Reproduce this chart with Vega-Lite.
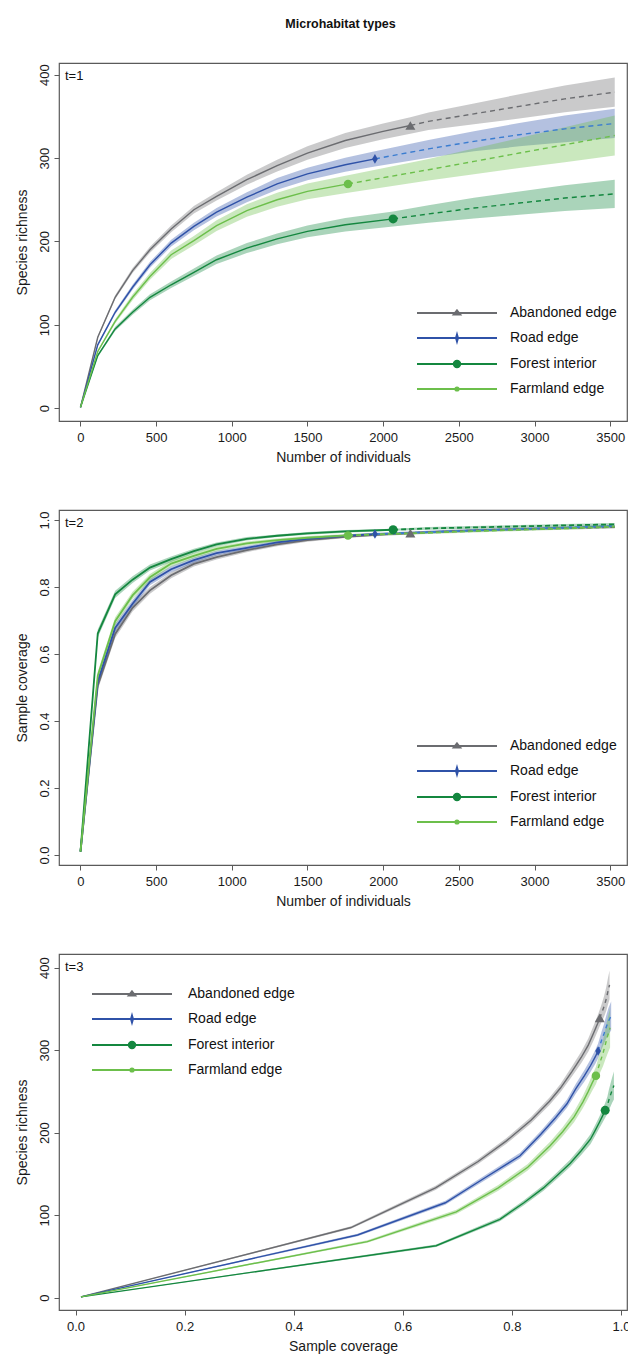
{
  "$schema": "https://vega.github.io/schema/vega-lite/v6.json",
  "padding": {"left": 14, "top": 17, "right": 0, "bottom": 0},
  "title": {"text": "Microhabitat types", "fontSize": 12.5, "fontWeight": "bold", "anchor": "middle", "offset": 32, "dx": 18, "color": "#111"},
  "spacing": 44,
  "resolve": {"legend": {"color": "independent"}},
  "config": {
    "font": "Liberation Sans",
    "view": {"stroke": "#5a5a5a", "strokeWidth": 1.2},
    "axis": {"domain": false, "grid": false, "ticks": true, "tickColor": "#5a5a5a", "tickSize": 5, "tickWidth": 1, "labelFontSize": 13, "labelColor": "#1a1a1a", "titleFontSize": 14, "titleFontWeight": "normal", "titleColor": "#1a1a1a", "labelOverlap": false, "labelFlush": false},
    "axisX": {"labelPadding": 5, "titlePadding": 6},
    "axisY": {"labelAngle": 270, "labelAlign": "center", "labelBaseline": "bottom", "labelPadding": 3, "titlePadding": 6, "minExtent": 24, "maxExtent": 24},
    "legend": {"padding": 0}
  },
  "datasets": {
    "curves": [
      {"g":"Abandoned edge","t":"rar","n":1,"S":1,"lo":1,"hi":1,"C":0.010,"clo":0.008,"chi":0.012},
      {"g":"Abandoned edge","t":"rar","n":115,"S":85,"lo":83.5,"hi":86.5,"C":0.505,"clo":0.493,"chi":0.517},
      {"g":"Abandoned edge","t":"rar","n":230,"S":133,"lo":130.5,"hi":135.5,"C":0.660,"clo":0.648,"chi":0.672},
      {"g":"Abandoned edge","t":"rar","n":345,"S":165,"lo":162,"hi":168,"C":0.738,"clo":0.727,"chi":0.749},
      {"g":"Abandoned edge","t":"rar","n":460,"S":190,"lo":186.5,"hi":193.5,"C":0.790,"clo":0.780,"chi":0.800},
      {"g":"Abandoned edge","t":"rar","n":600,"S":215,"lo":211,"hi":219,"C":0.835,"clo":0.826,"chi":0.844},
      {"g":"Abandoned edge","t":"rar","n":750,"S":238,"lo":233.5,"hi":242.5,"C":0.869,"clo":0.861,"chi":0.877},
      {"g":"Abandoned edge","t":"rar","n":900,"S":254,"lo":249,"hi":259,"C":0.889,"clo":0.882,"chi":0.896},
      {"g":"Abandoned edge","t":"rar","n":1100,"S":274,"lo":268,"hi":280,"C":0.910,"clo":0.904,"chi":0.916},
      {"g":"Abandoned edge","t":"rar","n":1300,"S":291,"lo":284,"hi":298,"C":0.927,"clo":0.922,"chi":0.932},
      {"g":"Abandoned edge","t":"rar","n":1500,"S":306,"lo":298,"hi":314,"C":0.940,"clo":0.935,"chi":0.945},
      {"g":"Abandoned edge","t":"rar","n":1750,"S":321,"lo":312,"hi":330,"C":0.950,"clo":0.946,"chi":0.954},
      {"g":"Abandoned edge","t":"rar","n":2000,"S":332,"lo":322.5,"hi":341.5,"C":0.957,"clo":0.953,"chi":0.961},
      {"g":"Abandoned edge","t":"obs","n":2180,"S":339,"lo":329,"hi":349,"C":0.961,"clo":0.957,"chi":0.965},
      {"g":"Abandoned edge","t":"ext","n":2300,"S":344,"lo":333.5,"hi":354.5,"C":0.964,"clo":0.960,"chi":0.968},
      {"g":"Abandoned edge","t":"ext","n":2600,"S":353,"lo":340.5,"hi":365.5,"C":0.969,"clo":0.965,"chi":0.973},
      {"g":"Abandoned edge","t":"ext","n":2900,"S":362,"lo":347.5,"hi":376.5,"C":0.973,"clo":0.969,"chi":0.977},
      {"g":"Abandoned edge","t":"ext","n":3200,"S":371,"lo":355,"hi":387,"C":0.976,"clo":0.972,"chi":0.980},
      {"g":"Abandoned edge","t":"ext","n":3530,"S":379,"lo":361.5,"hi":396.5,"C":0.979,"clo":0.975,"chi":0.983},

      {"g":"Road edge","t":"rar","n":1,"S":1,"lo":1,"hi":1,"C":0.010,"clo":0.008,"chi":0.012},
      {"g":"Road edge","t":"rar","n":115,"S":76,"lo":74.5,"hi":77.5,"C":0.517,"clo":0.505,"chi":0.529},
      {"g":"Road edge","t":"rar","n":230,"S":115,"lo":112.5,"hi":117.5,"C":0.678,"clo":0.666,"chi":0.690},
      {"g":"Road edge","t":"rar","n":345,"S":145,"lo":142,"hi":148,"C":0.750,"clo":0.739,"chi":0.761},
      {"g":"Road edge","t":"rar","n":460,"S":172,"lo":168.5,"hi":175.5,"C":0.815,"clo":0.805,"chi":0.825},
      {"g":"Road edge","t":"rar","n":600,"S":198,"lo":194,"hi":202,"C":0.853,"clo":0.844,"chi":0.862},
      {"g":"Road edge","t":"rar","n":750,"S":218,"lo":213.5,"hi":222.5,"C":0.880,"clo":0.872,"chi":0.888},
      {"g":"Road edge","t":"rar","n":900,"S":235,"lo":230,"hi":240,"C":0.901,"clo":0.894,"chi":0.908},
      {"g":"Road edge","t":"rar","n":1100,"S":253,"lo":247,"hi":259,"C":0.917,"clo":0.911,"chi":0.923},
      {"g":"Road edge","t":"rar","n":1300,"S":269,"lo":262,"hi":276,"C":0.933,"clo":0.928,"chi":0.938},
      {"g":"Road edge","t":"rar","n":1500,"S":281,"lo":273.5,"hi":288.5,"C":0.944,"clo":0.939,"chi":0.949},
      {"g":"Road edge","t":"rar","n":1750,"S":292,"lo":283.5,"hi":300.5,"C":0.953,"clo":0.949,"chi":0.957},
      {"g":"Road edge","t":"obs","n":1946,"S":299,"lo":290,"hi":308,"C":0.958,"clo":0.954,"chi":0.962},
      {"g":"Road edge","t":"ext","n":2300,"S":311,"lo":300.5,"hi":321.5,"C":0.964,"clo":0.960,"chi":0.968},
      {"g":"Road edge","t":"ext","n":2600,"S":320,"lo":308,"hi":332,"C":0.969,"clo":0.965,"chi":0.973},
      {"g":"Road edge","t":"ext","n":2900,"S":328,"lo":314,"hi":342,"C":0.973,"clo":0.969,"chi":0.977},
      {"g":"Road edge","t":"ext","n":3200,"S":335,"lo":319,"hi":351,"C":0.977,"clo":0.973,"chi":0.981},
      {"g":"Road edge","t":"ext","n":3530,"S":341.5,"lo":324,"hi":359,"C":0.982,"clo":0.978,"chi":0.986},

      {"g":"Forest interior","t":"rar","n":1,"S":1,"lo":1,"hi":1,"C":0.010,"clo":0.008,"chi":0.012},
      {"g":"Forest interior","t":"rar","n":115,"S":63,"lo":61.5,"hi":64.5,"C":0.661,"clo":0.649,"chi":0.673},
      {"g":"Forest interior","t":"rar","n":230,"S":95,"lo":92.5,"hi":97.5,"C":0.778,"clo":0.767,"chi":0.789},
      {"g":"Forest interior","t":"rar","n":345,"S":115,"lo":112,"hi":118,"C":0.822,"clo":0.812,"chi":0.832},
      {"g":"Forest interior","t":"rar","n":460,"S":133,"lo":129.5,"hi":136.5,"C":0.858,"clo":0.849,"chi":0.867},
      {"g":"Forest interior","t":"rar","n":600,"S":148,"lo":144,"hi":152,"C":0.883,"clo":0.875,"chi":0.891},
      {"g":"Forest interior","t":"rar","n":750,"S":163,"lo":158.5,"hi":167.5,"C":0.907,"clo":0.900,"chi":0.914},
      {"g":"Forest interior","t":"rar","n":900,"S":178,"lo":173,"hi":183,"C":0.927,"clo":0.921,"chi":0.933},
      {"g":"Forest interior","t":"rar","n":1100,"S":192,"lo":186,"hi":198,"C":0.944,"clo":0.939,"chi":0.949},
      {"g":"Forest interior","t":"rar","n":1300,"S":203,"lo":196.5,"hi":209.5,"C":0.953,"clo":0.949,"chi":0.957},
      {"g":"Forest interior","t":"rar","n":1500,"S":212,"lo":205,"hi":219,"C":0.960,"clo":0.956,"chi":0.964},
      {"g":"Forest interior","t":"rar","n":1750,"S":220,"lo":212,"hi":228,"C":0.966,"clo":0.962,"chi":0.970},
      {"g":"Forest interior","t":"obs","n":2066,"S":227,"lo":218,"hi":236,"C":0.971,"clo":0.968,"chi":0.974},
      {"g":"Forest interior","t":"ext","n":2300,"S":233,"lo":222.5,"hi":243.5,"C":0.975,"clo":0.971,"chi":0.979},
      {"g":"Forest interior","t":"ext","n":2600,"S":240,"lo":227.5,"hi":252.5,"C":0.978,"clo":0.974,"chi":0.982},
      {"g":"Forest interior","t":"ext","n":2900,"S":246,"lo":232,"hi":260,"C":0.981,"clo":0.977,"chi":0.985},
      {"g":"Forest interior","t":"ext","n":3200,"S":252,"lo":236.5,"hi":267.5,"C":0.984,"clo":0.980,"chi":0.988},
      {"g":"Forest interior","t":"ext","n":3530,"S":257,"lo":240,"hi":274,"C":0.987,"clo":0.983,"chi":0.991},

      {"g":"Farmland edge","t":"rar","n":1,"S":1,"lo":1,"hi":1,"C":0.010,"clo":0.008,"chi":0.012},
      {"g":"Farmland edge","t":"rar","n":115,"S":68,"lo":66.5,"hi":69.5,"C":0.535,"clo":0.523,"chi":0.547},
      {"g":"Farmland edge","t":"rar","n":230,"S":104,"lo":101.5,"hi":106.5,"C":0.698,"clo":0.686,"chi":0.710},
      {"g":"Farmland edge","t":"rar","n":345,"S":133,"lo":129.5,"hi":136.5,"C":0.775,"clo":0.764,"chi":0.786},
      {"g":"Farmland edge","t":"rar","n":460,"S":158,"lo":154,"hi":162,"C":0.829,"clo":0.819,"chi":0.839},
      {"g":"Farmland edge","t":"rar","n":600,"S":184,"lo":179,"hi":189,"C":0.870,"clo":0.861,"chi":0.879},
      {"g":"Farmland edge","t":"rar","n":750,"S":201,"lo":195.5,"hi":206.5,"C":0.893,"clo":0.885,"chi":0.901},
      {"g":"Farmland edge","t":"rar","n":900,"S":219,"lo":212.5,"hi":225.5,"C":0.914,"clo":0.907,"chi":0.921},
      {"g":"Farmland edge","t":"rar","n":1100,"S":237,"lo":229.5,"hi":244.5,"C":0.930,"clo":0.924,"chi":0.936},
      {"g":"Farmland edge","t":"rar","n":1300,"S":250,"lo":241.5,"hi":258.5,"C":0.940,"clo":0.935,"chi":0.945},
      {"g":"Farmland edge","t":"rar","n":1500,"S":260,"lo":250.5,"hi":269.5,"C":0.947,"clo":0.942,"chi":0.952},
      {"g":"Farmland edge","t":"obs","n":1768,"S":269,"lo":258.5,"hi":279.5,"C":0.954,"clo":0.950,"chi":0.958},
      {"g":"Farmland edge","t":"ext","n":2300,"S":286,"lo":273,"hi":299,"C":0.962,"clo":0.958,"chi":0.966},
      {"g":"Farmland edge","t":"ext","n":2600,"S":296,"lo":280.5,"hi":311.5,"C":0.967,"clo":0.963,"chi":0.971},
      {"g":"Farmland edge","t":"ext","n":2900,"S":306,"lo":288,"hi":324,"C":0.971,"clo":0.967,"chi":0.975},
      {"g":"Farmland edge","t":"ext","n":3200,"S":316,"lo":295,"hi":337,"C":0.975,"clo":0.971,"chi":0.979},
      {"g":"Farmland edge","t":"ext","n":3530,"S":327,"lo":303,"hi":351,"C":0.980,"clo":0.976,"chi":0.984}
    ]
  },
  "vconcat": [
    {
      "width": 568, "height": 358,
      "title": {"text": "t=1", "anchor": "start", "frame": "group", "offset": -20, "dx": 6, "fontSize": 13, "fontWeight": "normal", "color": "#111"},
      "data": {"name": "curves"},
      "encoding": {
        "x": {"field": "n", "type": "quantitative", "scale": {"domain": [-141, 3611], "nice": false, "zero": false}, "axis": {"title": "Number of individuals", "values": [0,500,1000,1500,2000,2500,3000,3500], "format": "d"}}
      },
      "layer": [
        {"mark": {"type": "area"},
         "encoding": {
           "y": {"field": "lo", "type": "quantitative", "scale": {"domain": [-15.4, 414], "nice": false, "zero": false}, "axis": {"title": "Species richness", "values": [0,100,200,300,400], "format": "d"}},
           "y2": {"field": "hi"},
           "color": {"field": "g", "type": "nominal", "scale": {"domain": ["Abandoned edge","Road edge","Forest interior","Farmland edge"], "range": ["#6b6c70","#2f52a8","#14873f","#6cbf4b"]},
             "legend": {"title": null, "orient": "none", "legendX": 355, "legendY": 243, "symbolSize": 64, "symbolStrokeWidth": 2.2, "symbolOpacity": 1, "symbolOffset": 36, "labelOffset": 46, "rowPadding": 10, "labelFontSize": 14, "labelColor": "#111",
               "encoding": {"symbols": {
                 "shape": {"value": {"expr": "datum.value === 'Abandoned edge' ? 'M-10,0H10M0,-0.6L0.75,0.35L-0.75,0.35Z' : datum.value === 'Road edge' ? 'M-10,0H10M0,-0.75L0.22,0L0,0.75L-0.22,0Z' : datum.value === 'Forest interior' ? 'M-10,0H10M-0.78,0A0.78,0.78,0,1,0,0.78,0A0.78,0.78,0,1,0,-0.78,0Z' : 'M-10,0H10M-0.38,0A0.38,0.38,0,1,0,0.38,0A0.38,0.38,0,1,0,-0.38,0Z'"}},
                 "fill": {"value": {"expr": "datum.value === 'Abandoned edge' ? '#6b6c70' : datum.value === 'Road edge' ? '#2f52a8' : datum.value === 'Forest interior' ? '#14873f' : '#6cbf4b'"}},
                 "stroke": {"value": {"expr": "datum.value === 'Abandoned edge' ? '#6b6c70' : datum.value === 'Road edge' ? '#2f52a8' : datum.value === 'Forest interior' ? '#14873f' : '#6cbf4b'"}},
                 "strokeWidth": {"value": 2.2},
                 "opacity": {"value": 1}}}}},
           "opacity": {"field": "g", "type": "ordinal", "scale": {"domain": ["Abandoned edge","Road edge","Forest interior","Farmland edge"], "range": [0.36,0.36,0.5,0.36]}, "legend": null}
         }},
        {"transform": [{"filter": "datum.t != 'ext'"}],
         "mark": {"type": "line", "strokeWidth": 1.4},
         "encoding": {
           "y": {"field": "S", "type": "quantitative", "scale": {"domain": [-15.4, 414], "nice": false, "zero": false}, "axis": {"title": "Species richness", "values": [0,100,200,300,400], "format": "d"}},
           "color": {"field": "g", "type": "nominal", "scale": {"domain": ["Abandoned edge","Road edge","Forest interior","Farmland edge"], "range": ["#6b6c70","#2f52a8","#14873f","#6cbf4b"]}}
         }},
        {"transform": [{"filter": "datum.t != 'rar'"}],
         "mark": {"type": "line", "strokeWidth": 1.4, "strokeDash": [5, 4]},
         "encoding": {
           "y": {"field": "S", "type": "quantitative", "scale": {"domain": [-15.4, 414], "nice": false, "zero": false}, "axis": {"title": "Species richness", "values": [0,100,200,300,400], "format": "d"}},
           "stroke": {"field": "g", "type": "nominal", "scale": {"domain": ["Abandoned edge","Road edge","Forest interior","Farmland edge"], "range": ["#6b6c70","#3b7dd0","#14873f","#6cbf4b"]}, "legend": null}
         }},
        {"transform": [{"filter": "datum.t == 'obs'"}],
         "mark": {"type": "point", "filled": true, "opacity": 1},
         "encoding": {
           "y": {"field": "S", "type": "quantitative", "scale": {"domain": [-15.4, 414], "nice": false, "zero": false}, "axis": {"title": "Species richness", "values": [0,100,200,300,400], "format": "d"}},
           "color": {"field": "g", "type": "nominal", "scale": {"domain": ["Abandoned edge","Road edge","Forest interior","Farmland edge"], "range": ["#6b6c70","#2f52a8","#14873f","#6cbf4b"]}},
           "shape": {"field": "g", "type": "nominal", "scale": {"domain": ["Abandoned edge","Road edge","Forest interior","Farmland edge"], "range": ["triangle-up","M0,-1L0.6,0L0,1L-0.6,0Z","circle","circle"]}, "legend": null},
           "size": {"field": "g", "type": "ordinal", "scale": {"domain": ["Abandoned edge","Road edge","Forest interior","Farmland edge"], "range": [100,72,80,32]}, "legend": null}
         }}
      ]
    },
    {
      "width": 568, "height": 355,
      "title": {"text": "t=2", "anchor": "start", "frame": "group", "offset": -20, "dx": 6, "fontSize": 13, "fontWeight": "normal", "color": "#111"},
      "data": {"name": "curves"},
      "encoding": {
        "x": {"field": "n", "type": "quantitative", "scale": {"domain": [-141, 3611], "nice": false, "zero": false}, "axis": {"title": "Number of individuals", "values": [0,500,1000,1500,2000,2500,3000,3500], "format": "d"}}
      },
      "layer": [
        {"mark": {"type": "area"},
         "encoding": {
           "y": {"field": "clo", "type": "quantitative", "scale": {"domain": [-0.0299, 1.0299], "nice": false, "zero": false}, "axis": {"title": "Sample coverage", "values": [0,0.2,0.4,0.6,0.8,1.0], "format": ".1f"}},
           "y2": {"field": "chi"},
           "color": {"field": "g", "type": "nominal", "scale": {"domain": ["Abandoned edge","Road edge","Forest interior","Farmland edge"], "range": ["#6b6c70","#2f52a8","#14873f","#6cbf4b"]},
             "legend": {"title": null, "orient": "none", "legendX": 355, "legendY": 229, "symbolSize": 64, "symbolStrokeWidth": 2.2, "symbolOpacity": 1, "symbolOffset": 36, "labelOffset": 46, "rowPadding": 10, "labelFontSize": 14, "labelColor": "#111",
               "encoding": {"symbols": {
                 "shape": {"value": {"expr": "datum.value === 'Abandoned edge' ? 'M-10,0H10M0,-0.6L0.75,0.35L-0.75,0.35Z' : datum.value === 'Road edge' ? 'M-10,0H10M0,-0.75L0.22,0L0,0.75L-0.22,0Z' : datum.value === 'Forest interior' ? 'M-10,0H10M-0.78,0A0.78,0.78,0,1,0,0.78,0A0.78,0.78,0,1,0,-0.78,0Z' : 'M-10,0H10M-0.38,0A0.38,0.38,0,1,0,0.38,0A0.38,0.38,0,1,0,-0.38,0Z'"}},
                 "fill": {"value": {"expr": "datum.value === 'Abandoned edge' ? '#6b6c70' : datum.value === 'Road edge' ? '#2f52a8' : datum.value === 'Forest interior' ? '#14873f' : '#6cbf4b'"}},
                 "stroke": {"value": {"expr": "datum.value === 'Abandoned edge' ? '#6b6c70' : datum.value === 'Road edge' ? '#2f52a8' : datum.value === 'Forest interior' ? '#14873f' : '#6cbf4b'"}},
                 "strokeWidth": {"value": 2.2},
                 "opacity": {"value": 1}}}}},
           "opacity": {"field": "g", "type": "ordinal", "scale": {"domain": ["Abandoned edge","Road edge","Forest interior","Farmland edge"], "range": [0.36,0.36,0.5,0.36]}, "legend": null}
         }},
        {"transform": [{"filter": "datum.t != 'ext'"}],
         "mark": {"type": "line", "strokeWidth": 1.8},
         "encoding": {
           "y": {"field": "C", "type": "quantitative", "scale": {"domain": [-0.0299, 1.0299], "nice": false, "zero": false}, "axis": {"title": "Sample coverage", "values": [0,0.2,0.4,0.6,0.8,1.0], "format": ".1f"}},
           "color": {"field": "g", "type": "nominal", "scale": {"domain": ["Abandoned edge","Road edge","Forest interior","Farmland edge"], "range": ["#6b6c70","#2f52a8","#14873f","#6cbf4b"]}}
         }},
        {"transform": [{"filter": "datum.t != 'rar'"}],
         "mark": {"type": "line", "strokeWidth": 1.8, "strokeDash": [5, 3]},
         "encoding": {
           "y": {"field": "C", "type": "quantitative", "scale": {"domain": [-0.0299, 1.0299], "nice": false, "zero": false}, "axis": {"title": "Sample coverage", "values": [0,0.2,0.4,0.6,0.8,1.0], "format": ".1f"}},
           "stroke": {"field": "g", "type": "nominal", "scale": {"domain": ["Abandoned edge","Road edge","Forest interior","Farmland edge"], "range": ["#6b6c70","#3b7dd0","#14873f","#6cbf4b"]}, "legend": null}
         }},
        {"transform": [{"filter": "datum.t == 'obs'"}],
         "mark": {"type": "point", "filled": true, "opacity": 1},
         "encoding": {
           "y": {"field": "C", "type": "quantitative", "scale": {"domain": [-0.0299, 1.0299], "nice": false, "zero": false}, "axis": {"title": "Sample coverage", "values": [0,0.2,0.4,0.6,0.8,1.0], "format": ".1f"}},
           "color": {"field": "g", "type": "nominal", "scale": {"domain": ["Abandoned edge","Road edge","Forest interior","Farmland edge"], "range": ["#6b6c70","#2f52a8","#14873f","#6cbf4b"]}},
           "shape": {"field": "g", "type": "nominal", "scale": {"domain": ["Abandoned edge","Road edge","Forest interior","Farmland edge"], "range": ["triangle-up","M0,-1L0.6,0L0,1L-0.6,0Z","circle","circle"]}, "legend": null},
           "size": {"field": "g", "type": "ordinal", "scale": {"domain": ["Abandoned edge","Road edge","Forest interior","Farmland edge"], "range": [100,60,80,32]}, "legend": null}
         }}
      ]
    },
    {
      "width": 568, "height": 356,
      "title": {"text": "t=3", "anchor": "start", "frame": "group", "offset": -20, "dx": 6, "fontSize": 13, "fontWeight": "normal", "color": "#111"},
      "data": {"name": "curves"},
      "encoding": {
        "x": {"field": "C", "type": "quantitative", "scale": {"domain": [-0.0303, 1.011], "nice": false, "zero": false}, "axis": {"title": "Sample coverage", "values": [0,0.2,0.4,0.6,0.8,1.0], "format": ".1f"}}
      },
      "layer": [
        {"mark": {"type": "area"},
         "encoding": {
           "y": {"field": "lo", "type": "quantitative", "scale": {"domain": [-14.9, 416.4], "nice": false, "zero": false}, "axis": {"title": "Species richness", "values": [0,100,200,300,400], "format": "d"}},
           "y2": {"field": "hi"},
           "color": {"field": "g", "type": "nominal", "scale": {"domain": ["Abandoned edge","Road edge","Forest interior","Farmland edge"], "range": ["#6b6c70","#2f52a8","#14873f","#6cbf4b"]},
             "legend": {"title": null, "orient": "none", "legendX": 30, "legendY": 33, "symbolSize": 64, "symbolStrokeWidth": 2.2, "symbolOpacity": 1, "symbolOffset": 36, "labelOffset": 49, "rowPadding": 10, "labelFontSize": 14, "labelColor": "#111",
               "encoding": {"symbols": {
                 "shape": {"value": {"expr": "datum.value === 'Abandoned edge' ? 'M-10,0H10M0,-0.6L0.75,0.35L-0.75,0.35Z' : datum.value === 'Road edge' ? 'M-10,0H10M0,-0.75L0.22,0L0,0.75L-0.22,0Z' : datum.value === 'Forest interior' ? 'M-10,0H10M-0.78,0A0.78,0.78,0,1,0,0.78,0A0.78,0.78,0,1,0,-0.78,0Z' : 'M-10,0H10M-0.38,0A0.38,0.38,0,1,0,0.38,0A0.38,0.38,0,1,0,-0.38,0Z'"}},
                 "fill": {"value": {"expr": "datum.value === 'Abandoned edge' ? '#6b6c70' : datum.value === 'Road edge' ? '#2f52a8' : datum.value === 'Forest interior' ? '#14873f' : '#6cbf4b'"}},
                 "stroke": {"value": {"expr": "datum.value === 'Abandoned edge' ? '#6b6c70' : datum.value === 'Road edge' ? '#2f52a8' : datum.value === 'Forest interior' ? '#14873f' : '#6cbf4b'"}},
                 "strokeWidth": {"value": 2.2},
                 "opacity": {"value": 1}}}}},
           "opacity": {"field": "g", "type": "ordinal", "scale": {"domain": ["Abandoned edge","Road edge","Forest interior","Farmland edge"], "range": [0.36,0.36,0.5,0.36]}, "legend": null}
         }},
        {"transform": [{"filter": "datum.t != 'ext'"}],
         "mark": {"type": "line", "strokeWidth": 1.4},
         "encoding": {
           "y": {"field": "S", "type": "quantitative", "scale": {"domain": [-14.9, 416.4], "nice": false, "zero": false}, "axis": {"title": "Species richness", "values": [0,100,200,300,400], "format": "d"}},
           "color": {"field": "g", "type": "nominal", "scale": {"domain": ["Abandoned edge","Road edge","Forest interior","Farmland edge"], "range": ["#6b6c70","#2f52a8","#14873f","#6cbf4b"]}}
         }},
        {"transform": [{"filter": "datum.t != 'rar'"}],
         "mark": {"type": "line", "strokeWidth": 1.4, "strokeDash": [4, 4]},
         "encoding": {
           "y": {"field": "S", "type": "quantitative", "scale": {"domain": [-14.9, 416.4], "nice": false, "zero": false}, "axis": {"title": "Species richness", "values": [0,100,200,300,400], "format": "d"}},
           "stroke": {"field": "g", "type": "nominal", "scale": {"domain": ["Abandoned edge","Road edge","Forest interior","Farmland edge"], "range": ["#6b6c70","#3b7dd0","#14873f","#6cbf4b"]}, "legend": null}
         }},
        {"transform": [{"filter": "datum.t == 'obs'"}],
         "mark": {"type": "point", "filled": true, "opacity": 1},
         "encoding": {
           "y": {"field": "S", "type": "quantitative", "scale": {"domain": [-14.9, 416.4], "nice": false, "zero": false}, "axis": {"title": "Species richness", "values": [0,100,200,300,400], "format": "d"}},
           "color": {"field": "g", "type": "nominal", "scale": {"domain": ["Abandoned edge","Road edge","Forest interior","Farmland edge"], "range": ["#6b6c70","#2f52a8","#14873f","#6cbf4b"]}},
           "shape": {"field": "g", "type": "nominal", "scale": {"domain": ["Abandoned edge","Road edge","Forest interior","Farmland edge"], "range": ["triangle-up","M0,-1L0.6,0L0,1L-0.6,0Z","circle","circle"]}, "legend": null},
           "size": {"field": "g", "type": "ordinal", "scale": {"domain": ["Abandoned edge","Road edge","Forest interior","Farmland edge"], "range": [100,72,80,36]}, "legend": null}
         }}
      ]
    }
  ]
}
